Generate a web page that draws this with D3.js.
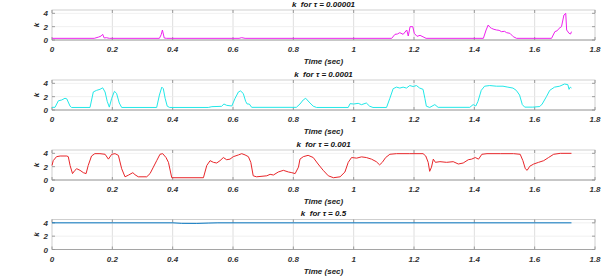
<!DOCTYPE html>
<html><head><meta charset="utf-8">
<script src="https://cdn.jsdelivr.net/npm/d3@7"></script>
<style>
html,body{margin:0;padding:0;background:#fff;}
svg text{font-family:"Liberation Sans",Arial,sans-serif;font-weight:bold;font-style:italic;}
</style></head><body>
<svg id="c" width="605" height="278"></svg>
<script>
// ---- data (time in sec, k) ----
const tauLabels = ["0.00001", "0.0001", "0.001", "0.5"];
const xTicks = [0, 0.2, 0.4, 0.6, 0.8, 1, 1.2, 1.4, 1.6, 1.8];
const yTicks = [0, 2, 4];
const lineColors = ["#ee22ee", "#22e8e8", "#e8262a", "#0072bd"];

const kTau1 = [[0,0.25],[0.14,0.25],[0.155,0.45],[0.163,0.6],[0.168,0.85],[0.173,0.3],[0.18,0.35],[0.19,0.25],[0.356,0.25],[0.362,0.8],[0.366,1.5],[0.372,0.3],[0.38,0.25],[0.62,0.25],[0.629,0.35],[0.64,0.25],[1.126,0.25],[1.137,0.85],[1.145,0.9],[1.153,1.1],[1.164,0.85],[1.176,1.5],[1.181,0.6],[1.187,2.0],[1.196,2.0],[1.201,1.0],[1.21,0.55],[1.22,0.7],[1.24,0.25],[1.43,0.25],[1.439,1.5],[1.446,2.25],[1.452,1.9],[1.457,1.75],[1.465,1.6],[1.474,1.5],[1.482,1.45],[1.49,1.25],[1.5,1.3],[1.507,1.1],[1.518,1.0],[1.529,0.5],[1.54,0.25],[1.656,0.25],[1.667,1.25],[1.675,1.4],[1.681,1.75],[1.689,2.0],[1.697,3.75],[1.703,4.0],[1.706,1.5],[1.714,1.0],[1.719,0.9],[1.722,1.25]];

const kTau2 = [[0,0.4],[0.01,0.4],[0.021,1.38],[0.032,1.5],[0.043,1.76],[0.049,1.67],[0.06,0.57],[0.065,0.38],[0.126,0.38],[0.137,2.71],[0.148,2.95],[0.159,3.1],[0.168,3.33],[0.176,2.7],[0.183,1.3],[0.19,0.43],[0.198,1.76],[0.207,2.8],[0.214,2.5],[0.223,1.05],[0.231,0.38],[0.347,0.38],[0.356,2.24],[0.364,3.43],[0.369,3.2],[0.375,1.76],[0.382,0.57],[0.39,0.38],[0.518,0.38],[0.53,0.5],[0.562,0.55],[0.57,0.9],[0.579,0.7],[0.596,0.6],[0.607,1.76],[0.618,2.71],[0.625,2.86],[0.634,2.48],[0.642,1.29],[0.647,0.9],[0.654,0.9],[0.662,0.4],[0.81,0.4],[0.822,0.9],[0.833,1.52],[0.841,1.76],[0.852,1.2],[0.866,0.57],[0.877,0.38],[0.982,0.38],[0.988,0.95],[1.0,0.9],[1.015,1.0],[1.026,0.8],[1.042,1.05],[1.053,0.57],[1.064,0.38],[1.109,0.38],[1.12,1.76],[1.131,3.2],[1.142,3.43],[1.153,3.29],[1.164,3.43],[1.175,3.29],[1.186,3.67],[1.197,3.52],[1.208,3.67],[1.219,3.29],[1.23,3.1],[1.236,1.76],[1.241,0.57],[1.252,0.38],[1.269,0.81],[1.28,0.4],[1.385,0.4],[1.396,0.81],[1.405,0.6],[1.412,1.29],[1.423,2.95],[1.434,3.57],[1.451,3.67],[1.473,3.57],[1.495,3.57],[1.511,3.43],[1.528,3.29],[1.539,2.95],[1.55,2.24],[1.559,0.81],[1.567,0.43],[1.594,0.43],[1.617,0.52],[1.625,0.9],[1.639,2.0],[1.65,2.95],[1.666,3.43],[1.683,3.57],[1.699,3.9],[1.71,3.8],[1.714,3.1],[1.718,3.43],[1.722,3.3]];

const kTau3 = [[0,2.17],[0.004,2.9],[0.015,3.5],[0.027,3.6],[0.049,3.6],[0.054,3.5],[0.06,2.17],[0.068,0.96],[0.076,1.45],[0.082,1.69],[0.093,1.45],[0.104,1.1],[0.113,0.96],[0.12,2.17],[0.131,3.6],[0.142,3.95],[0.159,3.95],[0.176,3.86],[0.187,3.13],[0.198,3.86],[0.209,3.95],[0.22,3.7],[0.231,1.69],[0.242,0.48],[0.253,0.72],[0.268,1.1],[0.275,0.8],[0.286,0.48],[0.314,0.48],[0.325,0.96],[0.336,1.93],[0.347,2.9],[0.358,3.86],[0.367,3.95],[0.378,3.37],[0.386,2.65],[0.397,0.34],[0.502,0.34],[0.513,2.17],[0.524,2.9],[0.535,2.65],[0.546,2.55],[0.557,2.9],[0.568,3.37],[0.579,3.04],[0.59,3.13],[0.601,3.5],[0.618,3.76],[0.629,3.95],[0.64,3.76],[0.651,3.5],[0.659,2.65],[0.667,0.63],[0.678,0.48],[0.712,0.63],[0.723,0.85],[0.734,0.75],[0.75,1.2],[0.767,1.45],[0.784,1.2],[0.795,1.1],[0.806,0.96],[0.817,1.93],[0.822,3.13],[0.833,3.5],[0.849,3.7],[0.866,3.37],[0.882,2.4],[0.899,1.45],[0.916,0.63],[0.933,0.34],[0.955,0.48],[0.971,1.2],[0.982,2.65],[0.993,3.37],[1.01,3.28],[1.026,3.47],[1.042,3.37],[1.059,3.13],[1.075,2.75],[1.086,2.27],[1.095,2.65],[1.106,3.37],[1.12,3.86],[1.142,3.95],[1.186,3.95],[1.23,3.95],[1.239,3.6],[1.247,2.65],[1.252,1.3],[1.258,1.93],[1.264,3.13],[1.271,2.65],[1.286,2.75],[1.308,2.65],[1.33,2.75],[1.347,2.4],[1.363,2.55],[1.38,3.04],[1.391,3.13],[1.403,3.37],[1.414,3.13],[1.425,3.86],[1.442,3.95],[1.486,3.95],[1.53,3.95],[1.552,3.86],[1.561,2.9],[1.569,1.69],[1.575,1.45],[1.584,2.07],[1.597,2.4],[1.613,2.65],[1.63,2.9],[1.646,3.37],[1.663,3.86],[1.685,4.0],[1.722,4.0]];

const kTau4 = [[0,4.0],[0.2,4.0],[0.4,4.0],[0.43,3.93],[0.48,3.92],[0.52,3.97],[0.55,4.0],[0.8,4.0],[1.2,4.0],[1.6,4.0],[1.722,4.0]];

const allSeries = [kTau1, kTau2, kTau3, kTau4];

// ---- layout ----
const svg = d3.select("#c");
const left = 52, right = 595, ph = 30;
const tops = [10, 80, 150, 219.5];
const x = d3.scaleLinear().domain([0, 1.8]).range([left, right]);

allSeries.forEach((data, i) => {
  const top = tops[i], bottom = top + ph;
  const y = d3.scaleLinear().domain([0, 4.5]).range([bottom, top]);
  const g = svg.append("g");

  // grid
  g.selectAll(".vg").data(xTicks.slice(1, -1)).enter().append("line")
    .attr("x1", d => x(d)).attr("x2", d => x(d)).attr("y1", top).attr("y2", bottom)
    .attr("stroke", "#d6d6d6").attr("stroke-width", 0.8);
  g.selectAll(".hg").data(yTicks.slice(1)).enter().append("line")
    .attr("x1", left).attr("x2", right).attr("y1", d => y(d)).attr("y2", d => y(d))
    .attr("stroke", "#ececec").attr("stroke-width", 0.8);

  // box
  g.append("rect").attr("x", left).attr("y", top).attr("width", right - left).attr("height", ph)
    .attr("fill", "none").attr("stroke", "#c4c4c4").attr("stroke-width", 0.8);

  // ticks (inward)
  g.selectAll(".tb").data(xTicks).enter().append("line")
    .attr("x1", d => x(d)).attr("x2", d => x(d)).attr("y1", bottom).attr("y2", bottom - 3)
    .attr("stroke", "#888").attr("stroke-width", 0.8);
  g.selectAll(".tt").data(xTicks).enter().append("line")
    .attr("x1", d => x(d)).attr("x2", d => x(d)).attr("y1", top).attr("y2", top + 3)
    .attr("stroke", "#888").attr("stroke-width", 0.8);
  g.selectAll(".tr").data(yTicks).enter().append("line")
    .attr("x1", right).attr("x2", right - 3).attr("y1", d => y(d)).attr("y2", d => y(d))
    .attr("stroke", "#888").attr("stroke-width", 0.8);
  g.selectAll(".tl").data(yTicks).enter().append("line")
    .attr("x1", left).attr("x2", left + 3).attr("y1", d => y(d)).attr("y2", d => y(d))
    .attr("stroke", "#888").attr("stroke-width", 0.8);

  // axis line at bottom
  g.append("line").attr("x1", left).attr("x2", right).attr("y1", bottom).attr("y2", bottom)
    .attr("stroke", "#9a9a9a").attr("stroke-width", 0.8);

  // tick labels
  g.selectAll(".xl").data(xTicks).enter().append("text")
    .attr("x", d => x(d)).attr("y", bottom + 12).attr("text-anchor", "middle")
    .attr("font-size", 8).attr("fill", "#333").text(d => String(d));
  g.selectAll(".yl").data(yTicks).enter().append("text")
    .attr("x", left - 4).attr("y", d => y(d) + 3).attr("text-anchor", "end")
    .attr("font-size", 8).attr("fill", "#333").text(d => String(d));

  // axis labels & title
  g.append("text").attr("x", (left + right) / 2).attr("y", bottom + 24).attr("text-anchor", "middle")
    .attr("font-size", 8).attr("fill", "#222").text("Time (sec)");
  g.append("text").attr("transform", `translate(39,${(top + bottom) / 2}) rotate(-90)`)
    .attr("text-anchor", "middle").attr("font-size", 8).attr("fill", "#222").text("k");
  g.append("text").attr("x", (left + right) / 2).attr("y", top - 3.5).attr("text-anchor", "middle")
    .attr("font-size", 8).attr("fill", "#111").attr("xml:space", "preserve")
    .text("k  for \u03C4 = " + tauLabels[i]);

  // data line
  const line = d3.line().x(d => x(d[0])).y(d => y(d[1]));
  g.append("path").datum(data).attr("d", line).attr("fill", "none")
    .attr("stroke", lineColors[i]).attr("stroke-width", 1).attr("stroke-linejoin", "round");
});
</script>
</body></html>
